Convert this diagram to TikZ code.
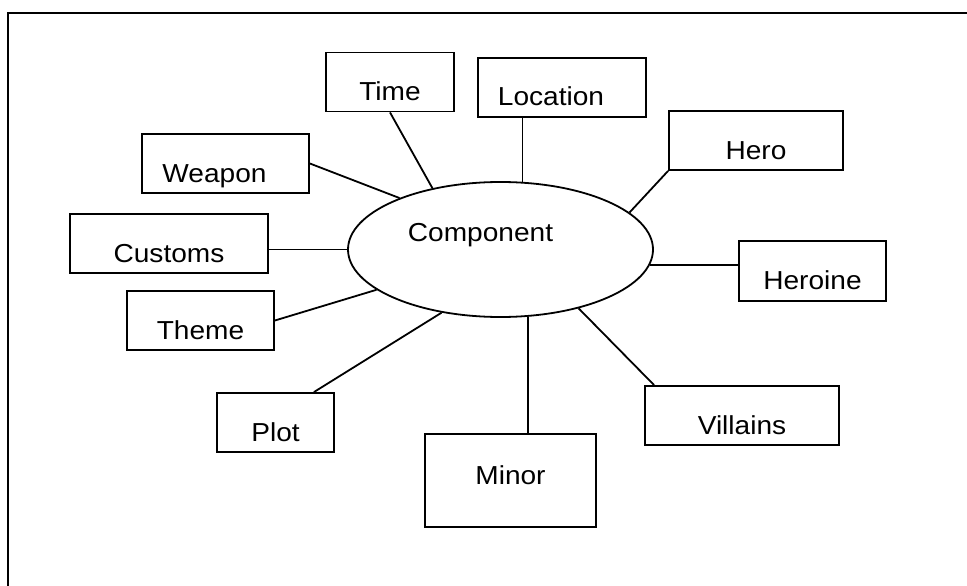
\documentclass[tikz,border=0pt]{standalone}
\usepackage{fontspec}
\setmainfont{Liberation Sans}[FakeStretch=1.08]
\usetikzlibrary{shapes.geometric,calc}

\tikzset{
  part/.style={draw, line width=1.8pt, inner sep=0pt, minimum height=59pt,
    text height=48pt, text depth=11pt, font=\fontsize{26}{30}\selectfont},
  hub/.style={draw, ellipse, line width=1.8pt, inner sep=0pt,
    minimum width=305pt, minimum height=135pt},
  link/.style={line width=1.8pt}
}

\begin{document}
\begin{tikzpicture}[x=1pt, y=-1pt]
\useasboundingbox (0, 0) rectangle (967, 586);

% frame
\draw[line width=1.8pt] (8, 586) -- (8, 13) -- (967, 13);

% centre
\node[hub, label={[font=\fontsize{26}{32}\selectfont, xshift=-20pt, yshift=14pt]center:Component}] (comp) at (500.5, 249.5) {};

% boxes
\node[part, minimum width=128pt] (time) at (390, 82) {Time};
\node[part, minimum width=168pt] (location) at (562, 87.5) {Location\hspace*{22pt}};
\node[part, minimum width=167pt] (weapon) at (225.5, 163.5) {Weapon\hspace*{22pt}};
\node[part, minimum width=198pt] (customs) at (169, 243.5) {Customs};
\node[part, minimum width=147pt] (theme) at (200.5, 320.5) {Theme};
\node[part, minimum width=117pt] (plot) at (275.5, 422.5) {Plot};
\node[part, minimum width=171pt, minimum height=93pt, text height=50pt, text depth=43pt] (minor) at (510.5, 480.5) {Minor};
\node[part, minimum width=194pt] (villains) at (742, 415.5) {Villains};
\node[part, minimum width=147pt, minimum height=60pt] (heroine) at (812.5, 271) {Heroine};
\node[part, minimum width=174pt] (hero) at (756, 140.5) {Hero};

% links
\draw[link] (comp.138) -- (time.south);
\draw[link] (comp.72) -- (comp.72 |- location.south);
\draw[link] (comp.16.5) -- (hero.south west);
\draw[link] (comp.-6) -- (comp.-6 -| heroine.west);
\draw[link] (comp.-37) -- ($(villains.north west)+(10, 0)$);
\draw[link] (comp.-68) -- (comp.-68 |- minor.north);
\draw[link] (comp.227.4) -- ($(plot.north east)+(-21, 0)$);
\draw[link] (comp.198.4) -- (theme.east);
\draw[link] (comp.west) -- (comp.west -| customs.east);
\draw[link] (comp.153.4) -- (weapon.east);

\end{tikzpicture}
\end{document}
